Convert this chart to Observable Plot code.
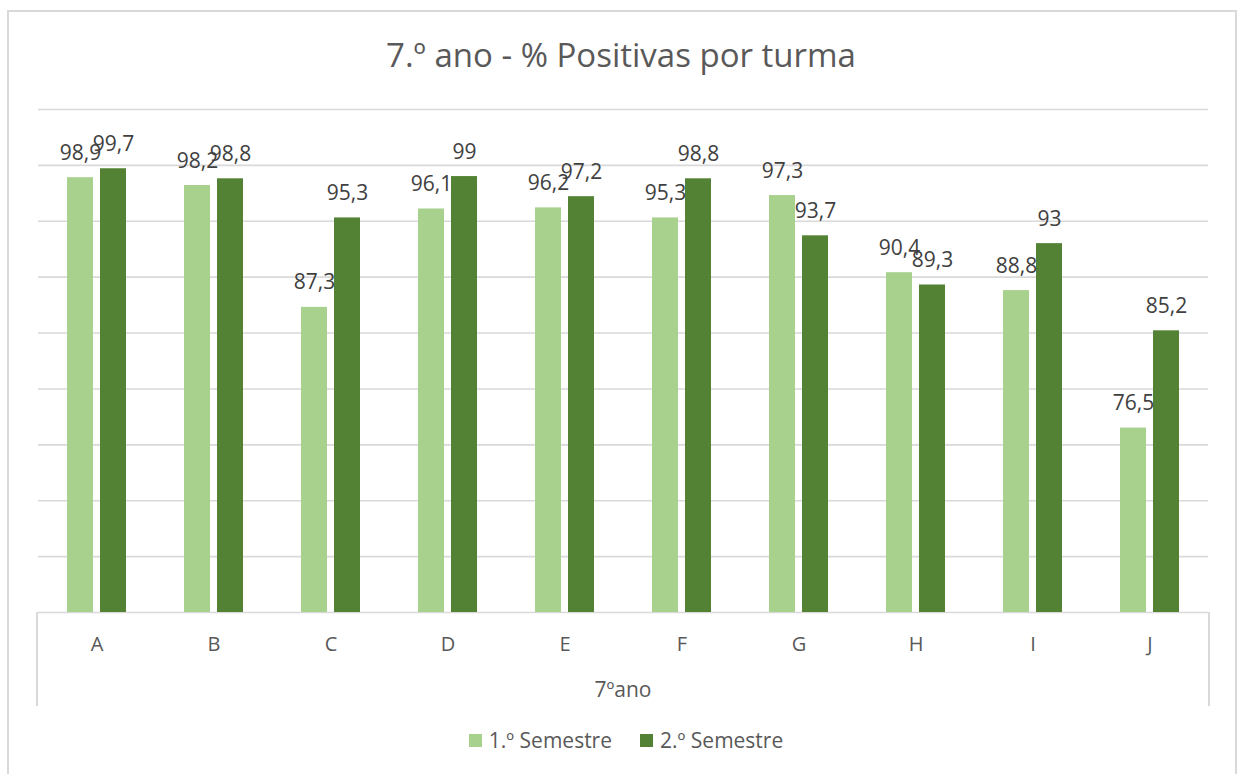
<!DOCTYPE html>
<html>
<head>
<meta charset="utf-8">
<script src="https://cdn.jsdelivr.net/npm/d3@7"></script>
<script src="https://cdn.jsdelivr.net/npm/@observablehq/plot@0.6"></script>
<style>
  html, body { margin: 0; padding: 0; background: #fff; }
  body { width: 1242px; height: 774px; position: relative; overflow: hidden; font-family: "Open Sans", Lato, sans-serif; color: #595959; }
  #frame { position: absolute; left: 7px; top: 10px; width: 1230px; height: 780px; border: 2px solid #d9d9d9; box-sizing: border-box; }
  #title { position: absolute; left: 0; width: 1242px; top: 38px; line-height: 1; text-align: center; font-size: 33px; color: #595959; }
  #chart { position: absolute; left: 0; top: 0; }
  #chart g[aria-label="fx-axis tick label"] { font-size: 20px; }
  .sep { position: absolute; top: 612px; height: 94px; width: 0; border-left: 2px solid #d9d9d9; }
  #group { position: absolute; left: 37px; width: 1172px; top: 679px; line-height: 1; text-align: center; font-size: 21px; color: #595959; }
  #legend { position: absolute; left: 0; width: 1242px; top: 730px; line-height: 1; display: flex; justify-content: center; gap: 28px; font-size: 21px; color: #595959; padding-left: 10px; box-sizing: border-box; }
  #legend span { display: inline-flex; align-items: center; gap: 7px; }
  #legend i { display: inline-block; width: 13px; height: 13px; }
</style>
</head>
<body>
<div id="frame"></div>
<div id="chart"></div>
<div id="title">7.º ano - % Positivas por turma</div>
<div class="sep" style="left:36px"></div>
<div class="sep" style="left:1208px"></div>
<div id="group">7ºano</div>
<div id="legend"></div>
<script>
const categories = ["A", "B", "C", "D", "E", "F", "G", "H", "I", "J"];
const seriesNames = ["1.º Semestre", "2.º Semestre"];
const semestre1 = [98.9, 98.2, 87.3, 96.1, 96.2, 95.3, 97.3, 90.4, 88.8, 76.5];
const semestre2 = [99.7, 98.8, 95.3, 99, 97.2, 98.8, 93.7, 89.3, 93, 85.2];
const seriesColors = ["#A9D18E", "#548235"];
const gridTicks = [60, 65, 70, 75, 80, 85, 90, 95, 100, 105];

const data = [];
categories.forEach((c, i) => {
  data.push({turma: c, serie: seriesNames[0], valor: semestre1[i]});
  data.push({turma: c, serie: seriesNames[1], valor: semestre2[i]});
});

const fmt = v => String(v).replace(".", ",");

const chart = Plot.plot({
  width: 1242,
  height: 720,
  marginLeft: 37,
  marginRight: 33,
  marginTop: 109,
  marginBottom: 108,
  style: {background: "transparent", fontFamily: "'Open Sans', Lato, sans-serif", color: "#595959", overflow: "visible"},
  fx: {domain: categories, padding: 0, label: null},
  x: {domain: seriesNames, paddingInner: 0.2, paddingOuter: 0.85, axis: null},
  y: {domain: [60, 105], axis: null},
  color: {domain: seriesNames, range: seriesColors},
  marks: [
    Plot.ruleY(gridTicks, {stroke: "#d9d9d9", strokeWidth: 1.6}),
    Plot.axisFx({anchor: "bottom", tickSize: 0, tickPadding: 24, fontSize: 20, label: null, fill: "#595959"}),
    Plot.barY(data, {fx: "turma", x: "serie", y1: 60, y2: "valor", fill: "serie"}),
    Plot.text(data, {fx: "turma", x: "serie", y: "valor", text: d => fmt(d.valor), lineAnchor: "bottom", dy: -18, fontSize: 21, fill: "#404040"})
  ]
});
document.getElementById("chart").appendChild(chart);

const legend = document.getElementById("legend");
seriesNames.forEach((s, i) => {
  const span = document.createElement("span");
  const sw = document.createElement("i");
  sw.style.background = seriesColors[i];
  span.appendChild(sw);
  span.appendChild(document.createTextNode(s));
  legend.appendChild(span);
});
</script>
</body>
</html>
